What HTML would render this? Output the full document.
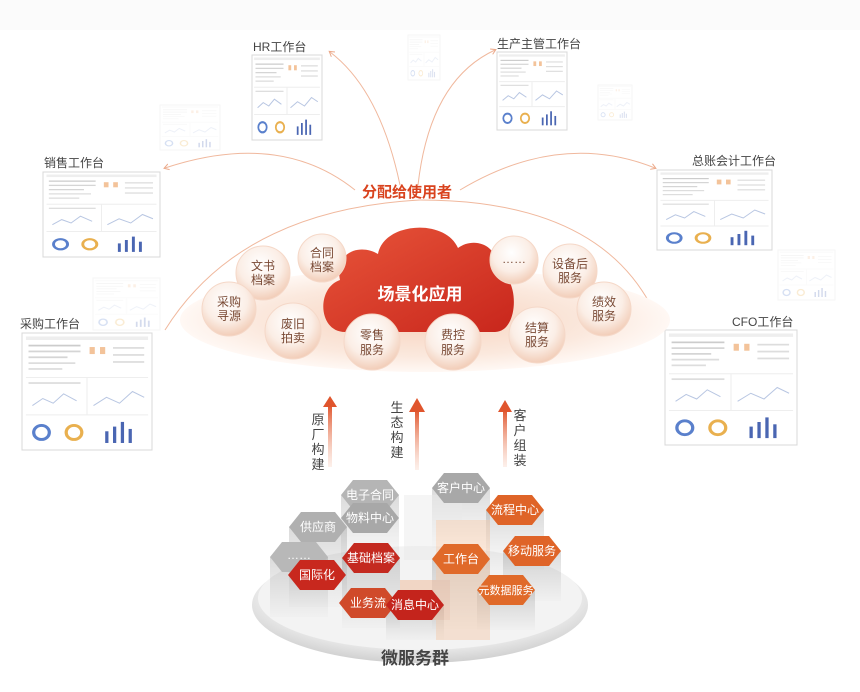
<!DOCTYPE html>
<html><head><meta charset="utf-8"><style>
html,body{margin:0;padding:0;background:#fff}
svg{display:block;font-family:"Liberation Sans","Noto Sans CJK SC",sans-serif}
</style></head><body>
<svg width="860" height="692" viewBox="0 0 860 692" xmlns="http://www.w3.org/2000/svg">
<defs>
<radialGradient id="disc" cx="50%" cy="50%" r="50%"><stop offset="0" stop-color="#f7d2bd"/><stop offset="0.7" stop-color="#fbe9de"/><stop offset="1" stop-color="#fff8f4"/></radialGradient>
<linearGradient id="cloud" x1="0" y1="0" x2="1" y2="1"><stop offset="0" stop-color="#e8553a"/><stop offset="1" stop-color="#c8261c"/></linearGradient>
<radialGradient id="ball" cx="45%" cy="35%" r="65%"><stop offset="0" stop-color="#fff"/><stop offset="0.6" stop-color="#fbeee6"/><stop offset="1" stop-color="#f2cdb8"/></radialGradient>
<radialGradient id="plat" cx="50%" cy="40%" r="60%"><stop offset="0" stop-color="#f6f6f6"/><stop offset="0.8" stop-color="#e8e8e8"/><stop offset="1" stop-color="#d0d0d0"/></radialGradient>
<linearGradient id="col" x1="0" y1="0" x2="0" y2="1"><stop offset="0" stop-color="#000" stop-opacity="0.14"/><stop offset="1" stop-color="#000" stop-opacity="0.01"/></linearGradient>
<linearGradient id="arr" x1="0" y1="1" x2="0" y2="0"><stop offset="0" stop-color="#f3b49a" stop-opacity="0.2"/><stop offset="1" stop-color="#e0552d"/></linearGradient>
<marker id="ah" markerWidth="8" markerHeight="8" refX="4" refY="4" orient="auto"><path d="M0,1 L5,4 L0,7" fill="none" stroke="#eba98a" stroke-width="1"/></marker>
<g id="thumb">
<rect x="0" y="0" width="100" height="100" fill="#fff" stroke="#d8d8d8" vector-effect="non-scaling-stroke"/>
<rect x="3" y="3" width="94" height="3" fill="#eee"/>
<rect x="5" y="10" width="40" height="1.5" fill="#ccc"/><rect x="5" y="15" width="40" height="1.5" fill="#d5d5d5"/><rect x="5" y="20" width="30" height="1.5" fill="#d5d5d5"/><rect x="5" y="25" width="36" height="1.5" fill="#ddd"/><rect x="5" y="30" width="26" height="1.5" fill="#ddd"/>
<rect x="52" y="12" width="4" height="6" fill="#f3c39a"/><rect x="60" y="12" width="4" height="6" fill="#f3c39a"/><rect x="70" y="12" width="24" height="1.5" fill="#ddd"/><rect x="70" y="18" width="24" height="1.5" fill="#ddd"/><rect x="70" y="24" width="24" height="1.5" fill="#ddd"/>
<line x1="3" y1="38" x2="97" y2="38" stroke="#eee" vector-effect="non-scaling-stroke"/><line x1="3" y1="70" x2="97" y2="70" stroke="#eee" vector-effect="non-scaling-stroke"/><line x1="50" y1="38" x2="50" y2="70" stroke="#eee" vector-effect="non-scaling-stroke"/>
<rect x="5" y="42" width="40" height="1.5" fill="#ddd"/>
<polyline points="8,62 16,56 24,60 32,52 42,58" fill="none" stroke="#b8c6e2" vector-effect="non-scaling-stroke"/>
<polyline points="55,62 65,55 75,60 85,50 94,55" fill="none" stroke="#b8c6e2" vector-effect="non-scaling-stroke"/>
<circle cx="15" cy="85" r="6" fill="none" stroke="#5a80cc" stroke-width="2.5"/><circle cx="40" cy="85" r="6" fill="none" stroke="#e9b04f" stroke-width="2.5"/>
<rect x="64" y="84" width="2.5" height="10" fill="#4a66b2"/><rect x="70" y="80" width="2.5" height="14" fill="#4a66b2"/><rect x="76" y="76" width="2.5" height="18" fill="#4a66b2"/><rect x="82" y="82" width="2.5" height="12" fill="#4a66b2"/>
</g>
</defs>

<rect x="0" y="0" width="860" height="30" fill="#fbfbfb"/>

<!-- faded thumbs -->
<g opacity="0.25">
<use href="#thumb" transform="translate(160,105) scale(0.6,0.45)"/>
<use href="#thumb" transform="translate(408,35) scale(0.32,0.45)"/>
<use href="#thumb" transform="translate(598,85) scale(0.34,0.35)"/>
<use href="#thumb" transform="translate(778,250) scale(0.57,0.5)"/>
<use href="#thumb" transform="translate(93,278) scale(0.67,0.52)"/>
</g>

<!-- thumbs -->
<use href="#thumb" transform="translate(252,55) scale(0.7,0.85)"/>
<use href="#thumb" transform="translate(497,52) scale(0.7,0.78)"/>
<use href="#thumb" transform="translate(43,172) scale(1.17,0.85)"/>
<use href="#thumb" transform="translate(657,170) scale(1.15,0.8)"/>
<use href="#thumb" transform="translate(22,333) scale(1.3,1.17)"/>
<use href="#thumb" transform="translate(665,330) scale(1.32,1.15)"/>

<g font-size="12" fill="#444">
<text x="253" y="51">HR工作台</text>
<text x="497" y="48">生产主管工作台</text>
<text x="44" y="167">销售工作台</text>
<text x="692" y="165">总账会计工作台</text>
<text x="20" y="328">采购工作台</text>
<text x="732" y="326">CFO工作台</text>
</g>

<!-- connector curves -->
<g fill="none" stroke="#f0b89d" stroke-width="1">
<path d="M400,185 Q380,90 330,52" marker-end="url(#ah)"/>
<path d="M418,185 Q430,80 495,50" marker-end="url(#ah)"/>
<path d="M355,190 Q280,130 165,168" marker-end="url(#ah)"/>
<path d="M460,190 Q560,130 655,168" marker-end="url(#ah)"/>
<path d="M165,330 Q240,210 420,200" />
<path d="M420,200 Q610,200 660,325" marker-end="url(#ah)"/>
</g>
<text x="407" y="197" font-size="15" font-weight="bold" fill="#d9431e" text-anchor="middle">分配给使用者</text>

<!-- disc -->
<ellipse cx="425" cy="320" rx="245" ry="52" fill="url(#disc)"/>

<!-- cloud -->
<path d="M345,332 C318,332 316,288 340,280 C334,252 360,243 378,254 C384,222 445,218 458,248 C474,236 500,245 496,270 C520,274 520,332 495,332 Z" fill="url(#cloud)"/>
<text x="420" y="300" font-size="17" font-weight="bold" fill="#fff" text-anchor="middle">场景化应用</text>

<!-- balls -->
<g font-size="12" fill="#7a4a35" text-anchor="middle">
<g><circle cx="263" cy="273" r="27" fill="url(#ball)" stroke="#f5d8c8"/><text x="263" y="270">文书</text><text x="263" y="284">档案</text></g>
<g><circle cx="322" cy="258" r="24" fill="url(#ball)" stroke="#f5d8c8"/><text x="322" y="257">合同</text><text x="322" y="271">档案</text></g>
<g><circle cx="229" cy="309" r="27" fill="url(#ball)" stroke="#f5d8c8"/><text x="229" y="306">采购</text><text x="229" y="320">寻源</text></g>
<g><circle cx="293" cy="331" r="28" fill="url(#ball)" stroke="#f5d8c8"/><text x="293" y="328">废旧</text><text x="293" y="342">拍卖</text></g>
<g><circle cx="372" cy="342" r="28" fill="url(#ball)" stroke="#f5d8c8"/><text x="372" y="339">零售</text><text x="372" y="354">服务</text></g>
<g><circle cx="453" cy="342" r="28" fill="url(#ball)" stroke="#f5d8c8"/><text x="453" y="339">费控</text><text x="453" y="354">服务</text></g>
<g><circle cx="514" cy="260" r="24" fill="url(#ball)" stroke="#f5d8c8"/><text x="514" y="263">……</text></g>
<g><circle cx="570" cy="271" r="27" fill="url(#ball)" stroke="#f5d8c8"/><text x="570" y="268">设备后</text><text x="570" y="282">服务</text></g>
<g><circle cx="604" cy="309" r="27" fill="url(#ball)" stroke="#f5d8c8"/><text x="604" y="306">绩效</text><text x="604" y="320">服务</text></g>
<g><circle cx="537" cy="335" r="28" fill="url(#ball)" stroke="#f5d8c8"/><text x="537" y="332">结算</text><text x="537" y="346">服务</text></g>
</g>

<!-- arrows -->
<g fill="url(#arr)">
<rect x="328" y="405" width="4" height="62"/><path d="M323,407 L330,396 L337,407 Z" fill="#e0552d"/>
<rect x="415" y="410" width="4" height="60"/><path d="M409,412 L417,398 L425,412 Z" fill="#e0552d"/>
<rect x="503" y="410" width="4" height="57"/><path d="M498,412 L505,400 L512,412 Z" fill="#e0552d"/>
</g>
<g font-size="13" fill="#444" text-anchor="middle">
<text x="318" y="424">原</text><text x="318" y="439">厂</text><text x="318" y="454">构</text><text x="318" y="469">建</text>
<text x="397" y="412">生</text><text x="397" y="427">态</text><text x="397" y="442">构</text><text x="397" y="457">建</text>
<text x="520" y="420">客</text><text x="520" y="435">户</text><text x="520" y="450">组</text><text x="520" y="465">装</text>
</g>

<!-- platform -->
<ellipse cx="420" cy="605" rx="168" ry="58" fill="url(#plat)"/>
<ellipse cx="420" cy="598" rx="162" ry="52" fill="#f3f3f3"/>

<!-- columns -->
<g fill="url(#col)">
<rect x="341" y="495" width="58" height="70"/><rect x="432" y="488" width="58" height="60"/>
<rect x="289" y="527" width="58" height="80"/><rect x="270" y="557" width="58" height="60"/><rect x="342" y="558" width="58" height="70"/>
<rect x="432" y="559" width="58" height="70"/><rect x="503" y="551" width="58" height="50"/>
<rect x="477" y="590" width="58" height="40"/><rect x="386" y="605" width="58" height="35"/>
<rect x="486" y="510" width="58" height="60"/>
</g>
<g opacity="0.45">
<path d="M404,495 L462,495 L462,560 L404,560 Z" fill="#e8e8e8"/>
<path d="M436,520 L490,520 L490,640 L436,640 Z" fill="#f5c9a8"/>
<path d="M400,580 L450,580 L450,620 L400,620 Z" fill="#f0b38e"/>
</g>

<!-- hexes -->
<g font-size="12" text-anchor="middle" fill="#fff">
<g transform="translate(370,495)"><path d="M-29,0 L-17,-15 L17,-15 L29,0 L17,15 L-17,15 Z" fill="#b5b5b5"/><text y="4">电子合同</text></g>
<g transform="translate(370,518)"><path d="M-29,0 L-17,-15 L17,-15 L29,0 L17,15 L-17,15 Z" fill="#a8a8a8"/><text y="4">物料中心</text></g>
<g transform="translate(318,527)"><path d="M-29,0 L-17,-15 L17,-15 L29,0 L17,15 L-17,15 Z" fill="#b0b0b0"/><text y="4">供应商</text></g>
<g transform="translate(299,557)"><path d="M-29,0 L-17,-15 L17,-15 L29,0 L17,15 L-17,15 Z" fill="#b8b8b8"/><text y="2">……</text></g>
<g transform="translate(461,488)"><path d="M-29,0 L-17,-15 L17,-15 L29,0 L17,15 L-17,15 Z" fill="#a8a8a8"/><text y="4">客户中心</text></g>
<g transform="translate(317,575)"><path d="M-29,0 L-17,-15 L17,-15 L29,0 L17,15 L-17,15 Z" fill="#c8281e"/><text y="4">国际化</text></g>
<g transform="translate(371,558)"><path d="M-29,0 L-17,-15 L17,-15 L29,0 L17,15 L-17,15 Z" fill="#c42a20"/><text y="4">基础档案</text></g>
<g transform="translate(368,603)"><path d="M-29,0 L-17,-15 L17,-15 L29,0 L17,15 L-17,15 Z" fill="#d04a2a"/><text y="4">业务流</text></g>
<g transform="translate(415,605)"><path d="M-29,0 L-17,-15 L17,-15 L29,0 L17,15 L-17,15 Z" fill="#c4241c"/><text y="4">消息中心</text></g>
<g transform="translate(515,510)"><path d="M-29,0 L-17,-15 L17,-15 L29,0 L17,15 L-17,15 Z" fill="#df6428"/><text y="4">流程中心</text></g>
<g transform="translate(461,559)"><path d="M-29,0 L-17,-15 L17,-15 L29,0 L17,15 L-17,15 Z" fill="#e06a2a"/><text y="4">工作台</text></g>
<g transform="translate(532,551)"><path d="M-29,0 L-17,-15 L17,-15 L29,0 L17,15 L-17,15 Z" fill="#df6428"/><text y="4">移动服务</text></g>
<g transform="translate(506,590)"><path d="M-29,0 L-17,-15 L17,-15 L29,0 L17,15 L-17,15 Z" fill="#e06a2a"/><text y="4" font-size="11">元数据服务</text></g>
</g>
<text x="415" y="664" font-size="17" font-weight="bold" fill="#444" text-anchor="middle">微服务群</text>
</svg>
</body></html>
